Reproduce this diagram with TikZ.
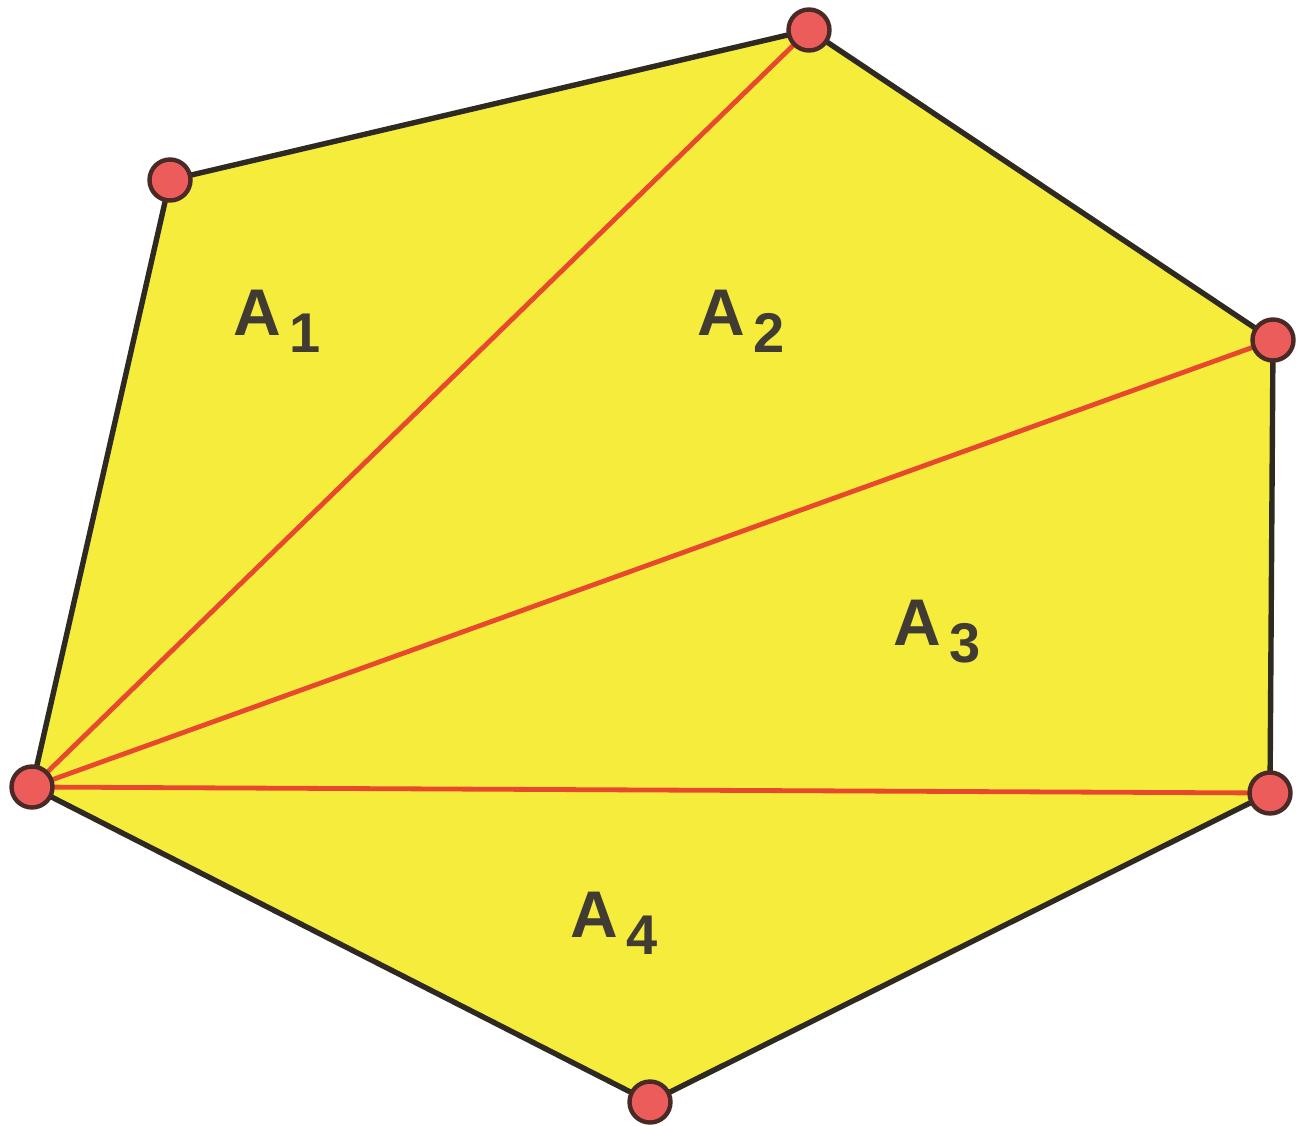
\documentclass[tikz,border=0pt]{standalone}
\usepackage{fontspec}
\setmainfont{Liberation Sans}
\definecolor{fillyel}{HTML}{F6EC3C}
\definecolor{edgecol}{HTML}{2E2A22}
\definecolor{diagcol}{HTML}{E8482E}
\definecolor{vtxfill}{HTML}{EC5C5A}
\definecolor{vtxline}{HTML}{4A2A26}
\definecolor{labcol}{HTML}{403B33}
\begin{document}
\begin{tikzpicture}[x=0.5pt,y=-0.5pt,
  edge/.style={draw=edgecol, line width=2.7pt, line join=round},
  diag/.style={draw=diagcol, line width=2.4pt},
  vtx/.style={circle, fill=vtxfill, draw=vtxline, line width=2.2pt, minimum size=20.5pt, inner sep=0pt},
  lab/.style={anchor=base west, inner sep=0pt, text=labcol, font=\fontsize{33}{33}\selectfont\bfseries}]
\useasboundingbox (0,0) rectangle (1300,1125);
\coordinate (p0) at (32,787);
\coordinate (p1) at (170,180);
\coordinate (p2) at (809,30);
\coordinate (p3) at (1273,340);
\coordinate (p4) at (1270,793);
\coordinate (p5) at (650,1102);
\fill[fillyel] (p0) -- (p1) -- (p2) -- (p3) -- (p4) -- (p5) -- cycle;
\draw[diag] (p0) -- (p2);
\draw[diag] (p0) -- (p3);
\draw[diag] (p0) -- (p4);
\draw[edge] (p0) -- (p1) -- (p2) -- (p3) -- (p4) -- (p5) -- cycle;
\foreach \p in {p0,p1,p2,p3,p4,p5} \node[vtx] (n\p) at (\p) {};
\newcommand{\sublab}[1]{A\hspace{4pt}\raisebox{-8.5pt}{\fontsize{28}{28}\selectfont #1}}
\node[lab] (a1) at (233,335) {\sublab{1}};
\node[lab] (a2) at (697,335) {\sublab{2}};
\node[lab] (a3) at (893,645) {\sublab{3}};
\node[lab] (a4) at (570,937) {\sublab{4}};
\end{tikzpicture}
\end{document}
